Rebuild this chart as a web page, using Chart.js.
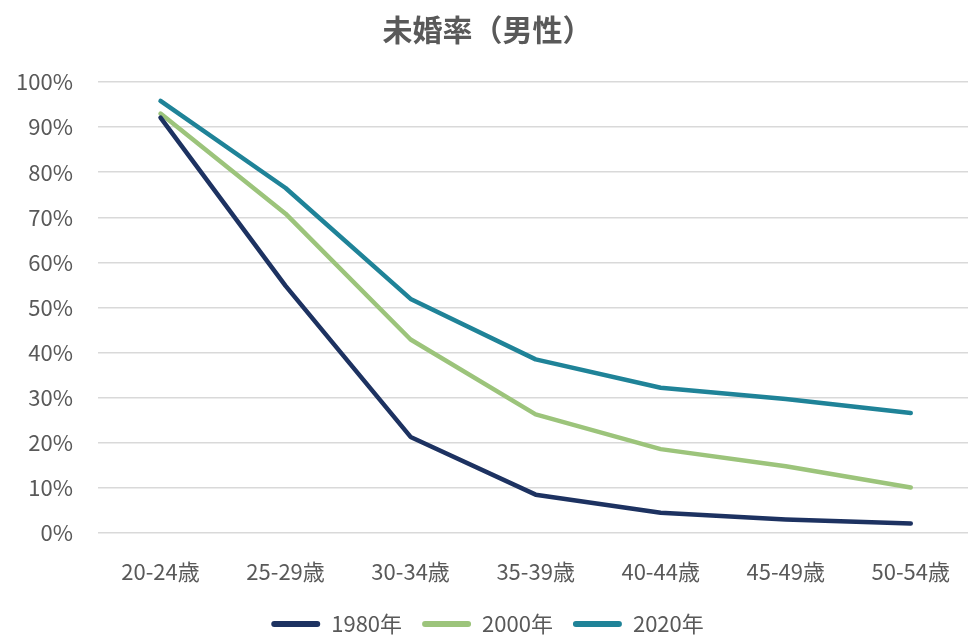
<!DOCTYPE html>
<html lang="ja">
<head>
<meta charset="utf-8">
<title>未婚率（男性）</title>
<script src="https://cdn.jsdelivr.net/npm/chart.js@4.4.1/dist/chart.umd.min.js"></script>
<style>
  html, body { margin: 0; padding: 0; background: #fff; overflow: hidden; }
  #wrap { width: 975px; height: 645px; position: relative; }
</style>
</head>
<body>
<div id="wrap"><canvas id="grafico"></canvas></div>
<script>
  // 年齢階級
  const ageGroups = ['20-24歳', '25-29歳', '30-34歳', '35-39歳', '40-44歳', '45-49歳', '50-54歳'];

  // 未婚率（%）
  const rate1980 = [92.1, 54.8, 21.3, 8.5, 4.5, 3.0, 2.1];
  const rate2000 = [93.0, 70.8, 42.9, 26.3, 18.6, 14.8, 10.1];
  const rate2020 = [95.8, 76.5, 51.9, 38.5, 32.2, 29.7, 26.6];

  const yTicks = [0, 10, 20, 30, 40, 50, 60, 70, 80, 90, 100];

  const fontFamily = '"Noto Sans CJK JP", "Noto Sans", sans-serif';
  const gray = '#595959';

  const ctx = document.getElementById('grafico');
  new Chart(ctx, {
    type: 'line',
    data: {
      labels: ageGroups,
      datasets: [
        { label: '1980年', data: rate1980, borderColor: '#1d3261', backgroundColor: '#1d3261' },
        { label: '2000年', data: rate2000, borderColor: '#9cc47b', backgroundColor: '#9cc47b' },
        { label: '2020年', data: rate2020, borderColor: '#1f8398', backgroundColor: '#1f8398' }
      ]
    },
    options: {
      responsive: true,
      maintainAspectRatio: false,
      animation: false,
      layout: { padding: 0 },
      elements: {
        line: { borderWidth: 4.5, tension: 0, borderCapStyle: 'round', borderJoinStyle: 'round' },
        point: { radius: 0, hoverRadius: 0 }
      },
      plugins: {
        title: {
          display: true,
          text: '未婚率（男性）',
          color: gray,
          font: { family: fontFamily, size: 30, weight: '600' },
          padding: { top: 12, bottom: 34 }
        },
        legend: {
          position: 'bottom',
          labels: {
            color: gray,
            font: { family: fontFamily, size: 22 },
            boxWidth: 49,
            boxHeight: 6,
            padding: 20,
            useBorderRadius: true,
            borderRadius: 3,
            generateLabels: (chart) => {
              const items = Chart.defaults.plugins.legend.labels.generateLabels(chart);
              items.forEach(it => { it.lineWidth = 0; });
              return items;
            }
          }
        },
        tooltip: { enabled: false }
      },
      scales: {
        x: {
          offset: true,
          grid: { display: false, drawTicks: false },
          border: { display: false },
          ticks: { color: gray, font: { family: fontFamily, size: 22 }, padding: 25, maxRotation: 0 },
          afterFit: (s) => { s.height = 60; }
        },
        y: {
          min: 0,
          max: 100,
          afterBuildTicks: (s) => { s.ticks = yTicks.map(v => ({ value: v })); },
          grid: { color: '#d9d9d9', lineWidth: 1.5, drawTicks: false },
          border: { display: false },
          ticks: {
            color: gray,
            font: { family: fontFamily, size: 22 },
            padding: 25,
            callback: (v) => v + '%'
          },
          afterFit: (s) => { s.width = 98; }
        }
      }
    }
  });
</script>
</body>
</html>
